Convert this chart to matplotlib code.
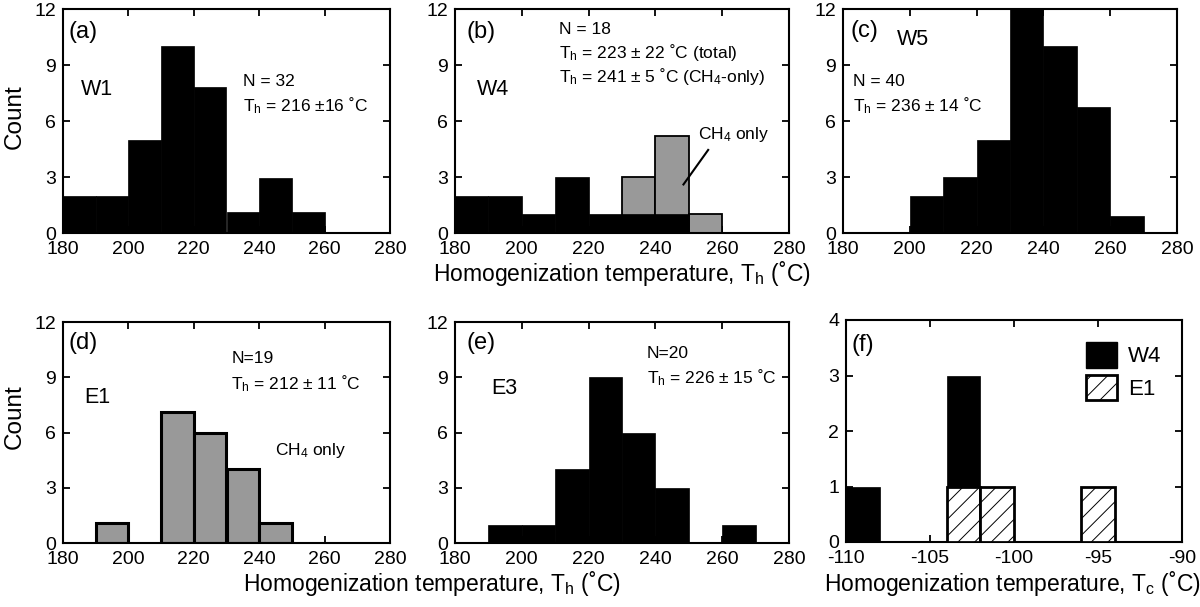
import matplotlib
matplotlib.use("Agg")
import matplotlib.pyplot as plt
from matplotlib.patches import Patch
import numpy as np

plt.rcParams['font.family'] = ['Liberation Sans', 'DejaVu Sans']
plt.rcParams['mathtext.fontset'] = 'custom'
plt.rcParams['mathtext.rm'] = 'Liberation Sans'
plt.rcParams['mathtext.it'] = 'Liberation Sans'
plt.rcParams['axes.unicode_minus'] = False
plt.rcParams['hatch.linewidth'] = 0.7

# ---------------- data ----------------
th_ticks = [180, 200, 220, 240, 260, 280]
count_ticks = [0, 3, 6, 9, 12]

# (a) W1
w1_left = [180, 190, 200, 210, 220, 230, 240, 250]
w1_count = [2, 2, 5, 10, 7.8, 1.1, 2.95, 1.1]

# (b) W4 (total black, CH4-only gray)
w4_black_left = [180, 190, 200, 210, 220, 230, 240]
w4_black_count = [2, 2, 1, 3, 1, 1, 1]
w4_gray_left = [230, 240, 250]
w4_gray_count = [3, 5.2, 1]

# (c) W5
w5_left = [200, 210, 220, 230, 240, 250, 260]
w5_count = [2, 3, 5, 12, 10, 6.75, 0.9]

# (d) E1 (CH4 only)
e1_left = [190, 210, 220, 230, 240]
e1_count = [1.1, 7.1, 6, 4, 1.1]

# (e) E3
e3_left = [190, 200, 210, 220, 230, 240, 260]
e3_count = [1, 1, 4, 9, 6, 3, 1]

# (f) Tc
tc_ticks = [-110, -105, -100, -95, -90]
tc_count_ticks = [0, 1, 2, 3, 4]
f_w4_left = [-110, -104]
f_w4_count = [1, 3]
f_e1_left = [-104, -102, -96]
f_e1_count = [1, 1, 1]

GRAY = '#999999'

fig = plt.figure(figsize=(12, 6.07), dpi=100)
H = 607.0

def make_ax(l, t, r, b):
    return fig.add_axes([l / 1200, 1 - b / H, (r - l) / 1200, (b - t) / H])

def style(ax, xt, yt, xlim, ylim):
    ax.set_xlim(*xlim)
    ax.set_ylim(*ylim)
    ax.set_xticks(xt)
    ax.set_yticks(yt)
    ax.tick_params(direction='in', top=True, right=True, length=5, width=1.3,
                   labelsize=14, pad=5)
    ax.tick_params(axis='x', pad=6)
    for s in ax.spines.values():
        s.set_linewidth(1.5)

ax_a = make_ax(63, 9, 390, 233)
ax_b = make_ax(455, 9, 789, 233)
ax_c = make_ax(843, 9, 1177, 233)
ax_d = make_ax(63, 322, 390, 543)
ax_e = make_ax(455, 322, 789, 543)
ax_f = make_ax(846, 320, 1182, 542)

tfs = 12.5
pfs = 17
wfs = 15.5
# (a)
ax_a.bar(w1_left, w1_count, width=10, align='edge', color='black', edgecolor='black', linewidth=0.5)
style(ax_a, th_ticks, count_ticks, (180, 280), (0, 12))
ax_a.text(181.8, 10.75, '(a)', fontsize=pfs, va='center')
ax_a.text(185.5, 7.7, 'W1', fontsize=wfs, va='center')
ax_a.text(235, 8.1, 'N = 32', fontsize=tfs, va='center')
ax_a.text(235, 6.8, 'T$_{\\mathrm{h}}$ = 216 ±16 ˚C', fontsize=tfs, va='center')

# (b)
ax_b.bar(w4_gray_left, w4_gray_count, width=10, align='edge', color=GRAY, edgecolor='black', linewidth=1.3, zorder=2)
ax_b.bar(w4_black_left, w4_black_count, width=10, align='edge', color='black', edgecolor='black', linewidth=0.5, zorder=3)
style(ax_b, th_ticks, count_ticks, (180, 280), (0, 12))
ax_b.text(183.3, 10.75, '(b)', fontsize=pfs, va='center')
ax_b.text(186.5, 7.7, 'W4', fontsize=wfs, va='center')
ax_b.text(211, 10.9, 'N = 18', fontsize=tfs, va='center')
ax_b.text(211, 9.65, 'T$_{\\mathrm{h}}$ = 223 ± 22 ˚C (total)', fontsize=tfs, va='center')
ax_b.text(211, 8.4, 'T$_{\\mathrm{h}}$ = 241 ± 5 ˚C (CH$_{4}$-only)', fontsize=tfs, va='center')
ax_b.text(263.5, 5.25, 'CH$_{4}$ only', fontsize=tfs, va='center', ha='center')
ax_b.plot([255.8, 248.4], [4.45, 2.6], color='black', linewidth=1.5, zorder=5)

# (c)
ax_c.bar(w5_left, w5_count, width=10, align='edge', color='black', edgecolor='black', linewidth=0.5)
style(ax_c, th_ticks, count_ticks, (180, 280), (0, 12))
ax_c.text(182.3, 10.8, '(c)', fontsize=pfs, va='center')
ax_c.text(196, 10.35, 'W5', fontsize=wfs, va='center')
ax_c.text(183, 8.1, 'N = 40', fontsize=tfs, va='center')
ax_c.text(183, 6.8, 'T$_{\\mathrm{h}}$ = 236 ± 14 ˚C', fontsize=tfs, va='center')

# (d)
ax_d.bar(e1_left, e1_count, width=10, align='edge', color=GRAY, edgecolor='black', linewidth=2.2)
style(ax_d, th_ticks, count_ticks, (180, 280), (0, 12))
ax_d.text(181.8, 10.85, '(d)', fontsize=pfs, va='center')
ax_d.text(186.5, 7.9, 'E1', fontsize=wfs, va='center')
ax_d.text(231.5, 10.0, 'N=19', fontsize=tfs, va='center')
ax_d.text(231.5, 8.65, 'T$_{\\mathrm{h}}$ = 212 ± 11 ˚C', fontsize=tfs, va='center')
ax_d.text(244.8, 5.0, 'CH$_{4}$ only', fontsize=tfs, va='center')

# (e)
ax_e.bar(e3_left, e3_count, width=10, align='edge', color='black', edgecolor='black', linewidth=0.5)
style(ax_e, th_ticks, count_ticks, (180, 280), (0, 12))
ax_e.text(183.3, 10.85, '(e)', fontsize=pfs, va='center')
ax_e.text(191, 8.4, 'E3', fontsize=wfs, va='center')
ax_e.text(237.5, 10.3, 'N=20', fontsize=tfs, va='center')
ax_e.text(237.5, 9.0, 'T$_{\\mathrm{h}}$ = 226 ± 15 ˚C', fontsize=tfs, va='center')

# (f)
ax_f.bar(f_w4_left, f_w4_count, width=2, align='edge', color='black', edgecolor='black', linewidth=0.5, zorder=2)
ax_f.bar(f_e1_left, f_e1_count, width=2, align='edge', color='white', edgecolor='black', linewidth=2.0, hatch='//', zorder=3)
style(ax_f, tc_ticks, tc_count_ticks, (-110, -90), (0, 4))
ax_f.text(-109.7, 3.55, '(f)', fontsize=pfs, va='center')
handles = [Patch(facecolor='black', edgecolor='black', label='W4'),
           Patch(facecolor='white', edgecolor='black', linewidth=2.0, hatch='//', label='E1')]
ax_f.legend(handles=handles, loc='upper right', frameon=False, fontsize=16,
            handlelength=1.4, handleheight=1.4, handletextpad=0.5,
            labelspacing=0.3, borderaxespad=0.3, bbox_to_anchor=(0.985, 0.97))

# labels
fig.text(0.012, 1 - 117 / H, 'Count', rotation=90, fontsize=17.5, ha='center', va='center')
fig.text(0.012, 1 - 417 / H, 'Count', rotation=90, fontsize=17.5, ha='center', va='center')
fig.text(622 / 1200, 1 - 273 / H, 'Homogenization temperature, T$_{\\mathrm{h}}$ (˚C)', fontsize=16.5, ha='center', va='center')
fig.text(432 / 1200, 1 - 584 / H, 'Homogenization temperature, T$_{\\mathrm{h}}$ (˚C)', fontsize=16.5, ha='center', va='center')
fig.text(1012 / 1200, 1 - 584 / H, 'Homogenization temperature, T$_{\\mathrm{c}}$ (˚C)', fontsize=16.5, ha='center', va='center')

fig.savefig('out.png', dpi=100)
